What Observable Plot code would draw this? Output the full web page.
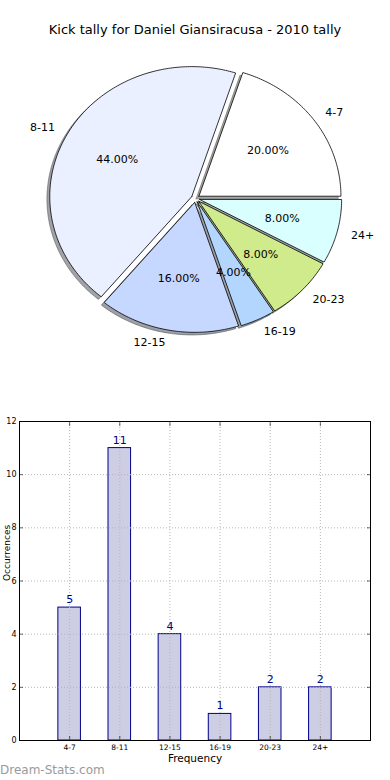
<!DOCTYPE html>
<html><head><meta charset="utf-8">
<script src="https://cdn.jsdelivr.net/npm/d3@7"></script>
<script src="https://cdn.jsdelivr.net/npm/@observablehq/plot@0.6"></script>
<style>
body{margin:0;background:#fff;font-family:"DejaVu Sans",sans-serif;}
#wrap{position:relative;width:390px;height:780px;overflow:hidden;background:#fff;}
.abs{position:absolute;left:0;}
#title{top:21px;width:390px;text-align:center;font-size:13px;line-height:18px;color:#000;}
#mark{top:762px;left:0;font-size:12px;color:#9a9a9a;line-height:16px;}
</style></head><body><div id="wrap"><div id="title" class="abs"></div><div id="pie" class="abs" style="top:0"></div><div id="bar" class="abs" style="top:400px"></div><div id="mark" class="abs"></div></div>
<script>
const titleText = "Kick tally for Daniel Giansiracusa - 2010 tally";
const categories = ["4-7", "8-11", "12-15", "16-19", "20-23", "24+"];
const counts = [5, 11, 4, 1, 2, 2];
const sliceColors = ["#ffffff", "#eaf0ff", "#c6d8ff", "#b3d6ff", "#d0eb8b", "#d9ffff"];
const yTicks = [0, 2, 4, 6, 8, 10, 12];
const xLabel = "Frequency";
const yLabel = "Occurrences";
const watermark = "Dream-Stats.com";

document.getElementById("title").textContent = titleText;
document.getElementById("mark").textContent = watermark;

// ---------- Pie ----------
const explode = 0.03;
const total = d3.sum(counts);
const ends = Array.from(d3.cumsum(counts));
const slices = categories.map((cat, i) => {
  const a0 = 2 * Math.PI * (ends[i] - counts[i]) / total;
  const a1 = 2 * Math.PI * ends[i] / total;
  const mid = (a0 + a1) / 2;
  const ox = explode * Math.cos(mid), oy = explode * Math.sin(mid);
  const n = Math.max(2, Math.ceil((a1 - a0) / 0.015));
  const pts = [{x: ox, y: oy}];
  for (let k = 0; k <= n; k++) {
    const t = a0 + (a1 - a0) * k / n;
    pts.push({x: ox + Math.cos(t), y: oy + Math.sin(t)});
  }
  pts.push({x: ox, y: oy});
  const c = d3.rgb(sliceColors[i]);
  const shadow = d3.rgb(c.r * 0.3, c.g * 0.3, c.b * 0.3).formatHex();
  return {cat, i, mid, ox, oy, pts, color: sliceColors[i], shadow,
          pct: (100 * counts[i] / total).toFixed(2) + "%"};
});

const shadowMarks = slices.map(s => Plot.line(s.pts, {
  x: d => d.x - 0.02, y: d => d.y - 0.02, fill: s.shadow, fillOpacity: 0.5,
  stroke: s.shadow, strokeOpacity: 0.5, strokeWidth: 1, curve: "linear"
}));
const sliceMarks = slices.map(s => Plot.line(s.pts, {
  x: "x", y: "y", fill: s.color, stroke: "#000", strokeWidth: 0.8, curve: "linear"
}));
const labelR = slices.filter(s => Math.cos(s.mid) >= 0);
const labelL = slices.filter(s => Math.cos(s.mid) < 0);
const lx = s => s.ox + 1.1 * Math.cos(s.mid), ly = s => s.oy + 1.1 * Math.sin(s.mid);

const pie = Plot.plot({
  width: 390, height: 380,
  margin: 0,
  x: {domain: [-1, 1], range: [53, 337], axis: null},
  y: {domain: [-1, 1], range: [328, 68], axis: null},
  style: {fontFamily: "DejaVu Sans", background: "transparent", overflow: "visible"},
  marks: [
    ...shadowMarks,
    ...sliceMarks,
    Plot.text(labelR, {x: lx, y: ly, text: "cat", textAnchor: "start", fontSize: 11, fill: "#000"}),
    Plot.text(labelL, {x: lx, y: ly, text: "cat", textAnchor: "end", fontSize: 11, fill: "#000"}),
    Plot.text(slices, {x: s => s.ox + 0.6 * Math.cos(s.mid), y: s => s.oy + 0.6 * Math.sin(s.mid),
      text: "pct", fontSize: 11, fill: "#000"})
  ]
});
document.getElementById("pie").appendChild(pie);

// ---------- Bars ----------
const bars = categories.map((cat, i) => ({cat, i, n: counts[i]}));
const xIdx = categories.map((c, i) => i);
const halfW = 0.225;
const gridStyle = {stroke: "#b5b5b5", strokeOpacity: 1, strokeWidth: 1, strokeDasharray: "1,2"};
const bar = Plot.plot({
  width: 390, height: 380,
  marginLeft: 19, marginRight: 20, marginTop: 21, marginBottom: 40,
  x: {domain: [-1, 6]},
  y: {domain: [0, 12]},
  style: {fontFamily: "DejaVu Sans", background: "transparent", overflow: "visible", color: "#000"},
  marks: [
    Plot.rectY(bars, {x1: d => d.i - halfW, x2: d => d.i + halfW, y1: 0, y2: "n",
      fill: "#cdcde4", stroke: "#00008b", strokeWidth: 1}),
    Plot.gridY({ticks: yTicks, ...gridStyle}),
    Plot.gridX({ticks: xIdx, ...gridStyle}),
    Plot.frame({stroke: "#000", strokeWidth: 1}),
    Plot.axisY({ticks: yTicks, tickSize: 0, tickPadding: 3, fontSize: 8, label: null}),
    Plot.axisY({ticks: yTicks, tickSize: -4, tickFormat: () => "", label: null, strokeWidth: 0.6}),
    Plot.axisY({ticks: yTicks, anchor: "right", tickSize: -4, tickFormat: () => "", label: null, strokeWidth: 0.6}),
    Plot.axisX({ticks: xIdx, tickFormat: i => categories[i], tickSize: 0, tickPadding: 4, fontSize: 7.5, label: null}),
    Plot.axisX({ticks: xIdx, tickSize: -4, tickFormat: () => "", label: null, strokeWidth: 0.6}),
    Plot.axisX({ticks: xIdx, anchor: "top", tickSize: -4, tickFormat: () => "", label: null, strokeWidth: 0.6}),
    Plot.text(bars, {x: "i", y: "n", text: d => String(d.n), dy: -8, fill: "#00008b", fontSize: 11}),
    Plot.text([xLabel], {frameAnchor: "bottom", dy: 21, fontSize: 10.5, fill: "#000"}),
    Plot.text([yLabel], {frameAnchor: "left", dx: -12, rotate: -90, fontSize: 9, fill: "#000"})
  ]
});
document.getElementById("bar").appendChild(bar);
</script></body></html>
